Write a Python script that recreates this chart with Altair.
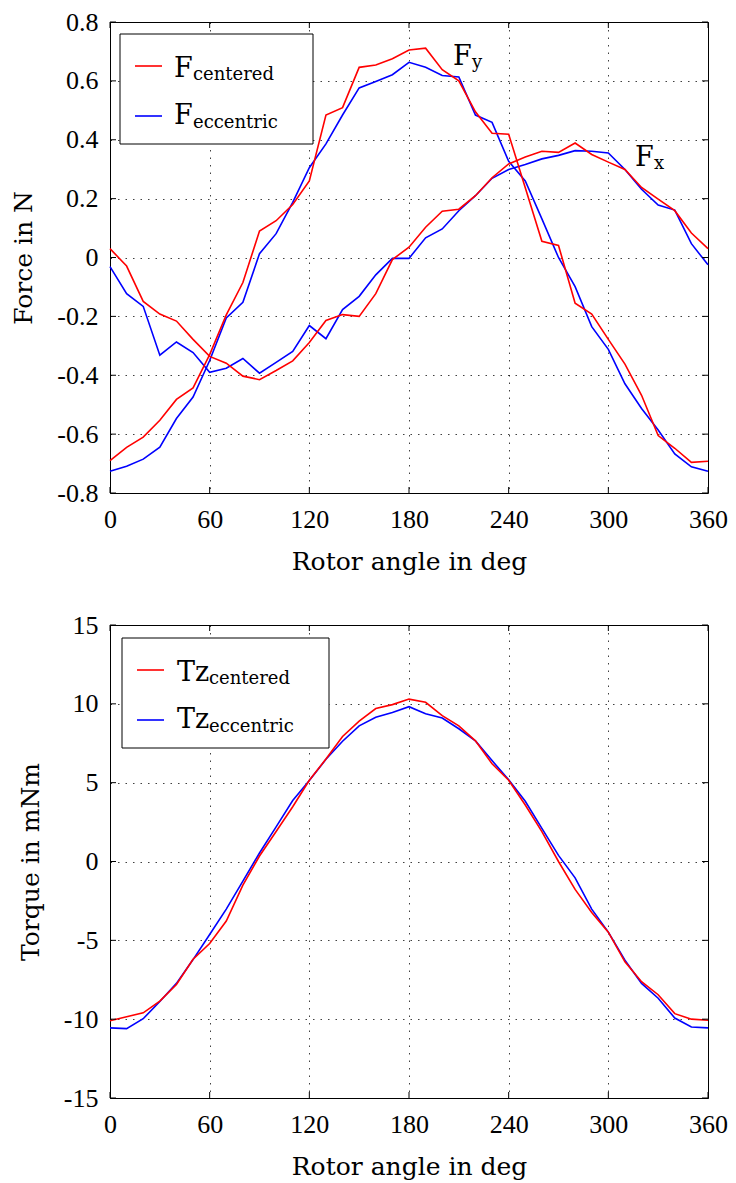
import altair as alt
import pandas as pd

angles = list(range(0, 361, 10))

fx_centered = [0.03, -0.029, -0.149, -0.192, -0.216, -0.278, -0.336, -0.359, -0.403, -0.415,
               -0.384, -0.351, -0.289, -0.214, -0.194, -0.2, -0.123, -0.007, 0.035, 0.103,
               0.157, 0.164, 0.21, 0.271, 0.318, 0.341, 0.361, 0.357, 0.389, 0.35,
               0.324, 0.299, 0.238, 0.198, 0.159, 0.083, 0.03]
fx_eccentric = [-0.031, -0.123, -0.166, -0.332, -0.287, -0.323, -0.39, -0.376, -0.343, -0.393,
                -0.356, -0.319, -0.231, -0.276, -0.177, -0.132, -0.059, -0.003, -0.003, 0.067,
                0.097, 0.159, 0.21, 0.269, 0.299, 0.316, 0.335, 0.347, 0.363, 0.361,
                0.355, 0.299, 0.232, 0.178, 0.161, 0.047, -0.025]
fy_centered = [-0.69, -0.645, -0.61, -0.553, -0.482, -0.443, -0.33, -0.195, -0.085, 0.09,
               0.125, 0.18, 0.26, 0.484, 0.509, 0.646, 0.654, 0.675, 0.705, 0.711,
               0.638, 0.60, 0.495, 0.422, 0.419, 0.237, 0.055, 0.041, -0.155, -0.192,
               -0.278, -0.362, -0.468, -0.605, -0.648, -0.696, -0.692]
fy_eccentric = [-0.726, -0.709, -0.685, -0.644, -0.547, -0.474, -0.35, -0.205, -0.152, 0.013,
                0.081, 0.187, 0.305, 0.386, 0.484, 0.576, 0.598, 0.621, 0.663, 0.646,
                0.618, 0.613, 0.484, 0.459, 0.327, 0.26, 0.131, 0.0, -0.099, -0.235,
                -0.312, -0.429, -0.513, -0.586, -0.667, -0.711, -0.726]
tz_centered = [-10.1, -9.85, -9.6, -8.85, -7.8, -6.2, -5.2, -3.78, -1.5, 0.35,
               1.9, 3.47, 5.15, 6.5, 7.93, 8.9, 9.7, 9.95, 10.3, 10.1,
               9.25, 8.6, 7.65, 6.2, 5.15, 3.58, 1.9, 0.0, -1.77, -3.23,
               -4.48, -6.36, -7.62, -8.45, -9.65, -10.0, -10.07]
tz_eccentric = [-10.55, -10.6, -9.97, -8.88, -7.73, -6.22, -4.63, -3.02, -1.24, 0.54,
                2.2, 3.87, 5.13, 6.48, 7.63, 8.6, 9.15, 9.45, 9.82, 9.37,
                9.1, 8.42, 7.65, 6.4, 5.18, 3.82, 2.1, 0.39, -1.04, -3.02,
                -4.48, -6.26, -7.73, -8.67, -9.93, -10.5, -10.55]

x_ticks = [0, 60, 120, 180, 240, 300, 360]
force_ticks = [-0.8, -0.6, -0.4, -0.2, 0, 0.2, 0.4, 0.6, 0.8]
torque_ticks = [-15, -10, -5, 0, 5, 10, 15]

FONT = "DejaVu Serif"
TICKFONT = "Liberation Serif"
RED = "#ff0000"
BLUE = "#0000ff"


def to_long(series):
    rows = []
    for (comp, var), vals in series.items():
        for a, v in zip(angles, vals):
            rows.append({"angle": a, "value": v, "component": comp, "variant": var})
    return pd.DataFrame(rows)


force_df = to_long({("Fx", "eccentric"): fx_eccentric, ("Fy", "eccentric"): fy_eccentric,
                    ("Fx", "centered"): fx_centered, ("Fy", "centered"): fy_centered})
torque_df = to_long({("Tz", "eccentric"): tz_eccentric, ("Tz", "centered"): tz_centered})

W = 598
one = pd.DataFrame({"k": [0]})


def txt(s, x, y, size):
    return alt.Chart(one).mark_text(text=s, font=FONT, fontSize=size, align="left",
                                    baseline="alphabetic", color="black").encode(
        x=alt.value(x), y=alt.value(y))


def panel(df, domain, yticks, ytitle, label_expr, H, legend, extras):
    sx = alt.Scale(domain=[0, 360], nice=False)
    sy = alt.Scale(domain=domain, nice=False, zero=False)
    X = alt.X("angle:Q", scale=sx,
              axis=alt.Axis(values=x_ticks, title="Rotor angle in deg", format="d",
                            labelFlush=False))
    Y = alt.Y("value:Q", scale=sy,
              axis=alt.Axis(values=yticks, title=ytitle, labelExpr=label_expr,
                            labelFlush=False))
    layers = []
    for var, col in [("eccentric", BLUE), ("centered", RED)]:
        layers.append(alt.Chart(df).transform_filter(alt.datum.variant == var)
                      .mark_line(color=col, strokeWidth=1.6)
                      .encode(x=X, y=Y, detail="component:N"))
    xt = pd.DataFrame({"angle": x_ticks})
    yt = pd.DataFrame({"value": yticks})
    layers.append(alt.Chart(xt).mark_rule(color="black", strokeWidth=1).encode(
        x=X, y=alt.value(H), y2=alt.value(H - 6)))
    layers.append(alt.Chart(xt).mark_rule(color="black", strokeWidth=1).encode(
        x=X, y=alt.value(0), y2=alt.value(6)))
    layers.append(alt.Chart(yt).mark_rule(color="black", strokeWidth=1).encode(
        y=Y, x=alt.value(0), x2=alt.value(6)))
    layers.append(alt.Chart(yt).mark_rule(color="black", strokeWidth=1).encode(
        y=Y, x=alt.value(W), x2=alt.value(W - 6)))
    bx0, bx1, by0, by1, lx0, lx1, ly1, ly2, tx, sx_, main = legend
    layers.append(alt.Chart(one).mark_rect(fill="white", stroke="black", strokeWidth=1).encode(
        x=alt.value(bx0), x2=alt.value(bx1), y=alt.value(by0), y2=alt.value(by1)))
    layers.append(alt.Chart(one).mark_rule(color=RED, strokeWidth=1.6).encode(
        x=alt.value(lx0), x2=alt.value(lx1), y=alt.value(ly1)))
    layers.append(alt.Chart(one).mark_rule(color=BLUE, strokeWidth=1.6).encode(
        x=alt.value(lx0), x2=alt.value(lx1), y=alt.value(ly2)))
    layers.append(txt(main, tx, ly1 + 11, 27))
    layers.append(txt("centered", sx_, ly1 + 14, 18))
    layers.append(txt(main, tx, ly2 + 8, 27))
    layers.append(txt("eccentric", sx_, ly2 + 12, 18))
    for s, x, y, size in extras:
        layers.append(txt(s, x, y, size))
    return alt.layer(*layers).properties(width=W, height=H)


minus_fix = "replace(%s, '\u2212', '-')"
force_labels = "abs(datum.value) < 1e-9 ? '0' : " + minus_fix % "format(datum.value, '.1f')"
torque_labels = minus_fix % "format(datum.value, 'd')"

top = panel(force_df, [-0.8, 0.8], force_ticks, "Force in N", force_labels, 471,
            (10, 203, 12, 122, 25, 52, 44, 94, 64, 83, "F"),
            [("F", 343, 43, 27), ("y", 362, 46, 18), ("F", 525, 144, 27), ("x", 544, 147, 18)])
bottom = panel(torque_df, [-15, 15], torque_ticks, "Torque in mNm", torque_labels, 473,
               (12, 219, 13, 123, 27, 54, 45, 95, 67, 99, "Tz"), [])

chart = alt.vconcat(top, bottom, spacing=36).properties(
    padding={"left": 3, "top": 0, "right": 0, "bottom": 0}
).configure_view(stroke="black", strokeWidth=1).configure_axis(
    labelFont=TICKFONT, titleFont=FONT, labelFontSize=26, titleFontSize=25,
    titleFontWeight="normal", labelColor="black", titleColor="black",
    domain=False, ticks=False, tickSize=0, grid=True, gridColor="#000000",
    gridOpacity=0.75, gridDash=[1.5, 6], gridWidth=1
).configure_axisX(labelPadding=13, titlePadding=17).configure_axisY(
    labelPadding=12, titlePadding=20)

chart.save("out.html", embed_options={"renderer": "svg", "actions": False})
